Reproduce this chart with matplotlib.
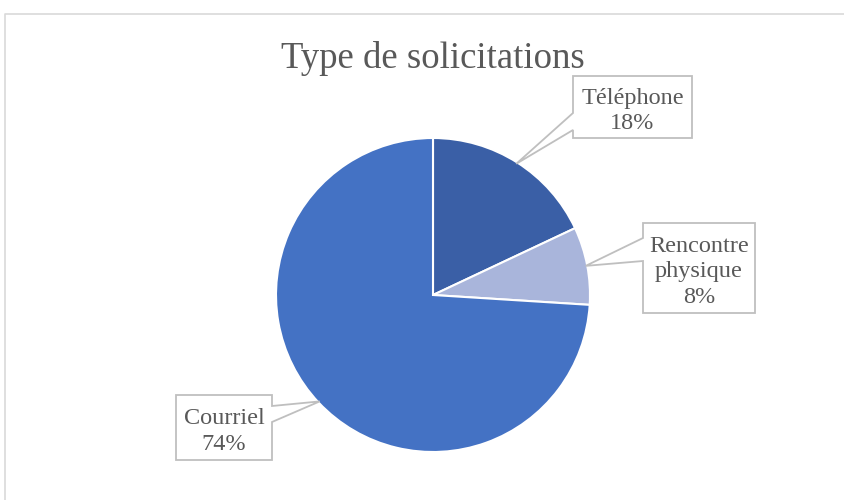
import matplotlib
matplotlib.use("Agg")
import matplotlib.pyplot as plt
from matplotlib.patches import Polygon
import numpy as np

title = "Type de solicitations"
categories = ["Téléphone", "Rencontre\nphysique", "Courriel"]
values = [18, 8, 74]
colors = ["#3A5FA6", "#A9B5DB", "#4472C4"]

W, H = 845, 500
fig = plt.figure(figsize=(W / 100, H / 100), dpi=100)
ax = fig.add_axes([0, 0, 1, 1])
ax.set_xlim(0, W)
ax.set_ylim(0, H)
ax.set_aspect("equal")
ax.axis("off")

# chart border (top & left visible)
ax.plot([5.5, 5.5, W + 5], [-5, H - 13.5, H - 13.5], color="#D9D9D9", lw=1.2)

cx, cy, R = 433, 500 - 295, 157
wedges, _ = ax.pie(values, colors=colors, startangle=90, counterclock=False,
                   center=(cx, cy), radius=R,
                   wedgeprops=dict(edgecolor="white", linewidth=1.5))
ax.set_xlim(0, W)
ax.set_ylim(0, H)

ax.text(433, 500 - 58, title, ha="center", va="center",
        fontsize=26.5, family="Liberation Serif", color="#595959")

# callout boxes: (x0, y_top, x1, y_bottom) in pixel coords, pointer side
boxes = [
    dict(box=(573, 76, 692, 138), side="left", base=(113, 130)),
    dict(box=(643, 223, 755, 313), side="left", base=(238, 261)),
    dict(box=(176, 395, 272, 460), side="right", base=(406, 422)),
]

fracs = np.array(values) / sum(values)
start = 90.0
for i, (w, b) in enumerate(zip(wedges, boxes)):
    theta = start - (fracs[:i].sum() + fracs[i] / 2) * 360
    t = np.deg2rad(theta)
    tip = (cx + R * 0.99 * np.cos(t), cy + R * 0.99 * np.sin(t))
    x0, yt, x1, yb = b["box"]
    yt, yb = H - yt, H - yb
    b0, b1 = H - b["base"][0], H - b["base"][1]
    if b["side"] == "left":
        pts = [(x0, yt), (x1, yt), (x1, yb), (x0, yb), (x0, b1), tip, (x0, b0)]
    else:
        pts = [(x0, yt), (x1, yt), (x1, b0), tip, (x1, b1), (x1, yb), (x0, yb)]
    ax.add_patch(Polygon(pts, closed=True, facecolor="white",
                         edgecolor="#BFBFBF", lw=1.3, zorder=5))
    pct = f"{values[i]}%"
    ax.text((x0 + x1) / 2, (yt + yb) / 2 - 4, categories[i] + "\n" + pct,
            ha="center", va="center", fontsize=17.5, linespacing=1.3,
            family="Liberation Serif", color="#595959", zorder=6)

fig.savefig("out.png", dpi=100)
